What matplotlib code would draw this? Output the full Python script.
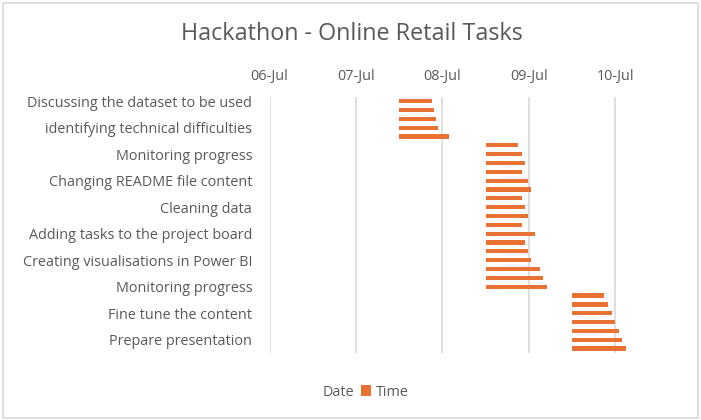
import matplotlib.pyplot as plt
import matplotlib.dates as mdates
from matplotlib.patches import Rectangle, Patch

# task labels shown on the axis (Excel shows every 3rd category)
task_labels = ['Discussing the dataset to be used',
               'identifying technical difficulties',
               'Monitoring progress',
               'Changing README file content',
               'Cleaning data',
               'Adding tasks to the project board',
               'Creating visualisations in Power BI',
               'Monitoring progress',
               'Fine tune the content',
               'Prepare presentation']
label_rows = [0, 3, 6, 9, 12, 15, 18, 21, 24, 27]

# start of each task ("Date" series, invisible)
start_dates = ['2024-07-07 12:00'] * 5 + ['2024-07-08 12:00'] * 17 + ['2024-07-09 12:00'] * 7
# duration of each task in hours ("Time" series)
hours = [9, 9.75, 10.25, 10.75, 13.75,
         9, 10, 11, 10, 11.75, 12.75, 10, 11, 11.75, 10, 13.75, 11, 11.75, 12.75, 15, 16, 17,
         9, 10, 11, 12, 13, 14, 15]

plt.rcParams['font.family'] = ['Open Sans', 'DejaVu Sans']
grey = '#595959'
orange = '#E97132'

fig = plt.figure(figsize=(7.01, 4.2), dpi=100)
fig.patches.append(Rectangle((0.004, 0.004), 0.992, 0.988, transform=fig.transFigure,
                             fill=False, edgecolor='#d9d9d9', linewidth=1.2))
ax = fig.add_axes([269.5 / 701, 1 - 353 / 420, 388.8 / 701, 256.3 / 420])

starts = mdates.datestr2num(start_dates)
rows = list(range(len(hours)))
ax.barh(rows, [h / 24 for h in hours], left=starts, height=0.48, color=orange)

x0 = mdates.datestr2num('2024-07-06')
ax.set_xlim(x0, x0 + 4.5)
ax.set_ylim(len(hours) - 0.5, -0.5)
ax.set_xticks([x0 + i for i in range(5)])
ax.xaxis.set_major_formatter(mdates.DateFormatter('%d-%b'))
ax.xaxis.tick_top()
ax.set_yticks(label_rows)
ax.set_yticklabels(task_labels)
ax.tick_params(length=0, colors=grey, labelsize=10.4)
ax.tick_params(axis='y', pad=12.5)
ax.tick_params(axis='x', pad=9)
ax.grid(axis='x', color='#d9d9d9', linewidth=1.2)
ax.set_axisbelow(True)
for s in ax.spines.values():
    s.set_visible(False)

fig.text(352 / 701, 1 - 34 / 420, 'Hackathon - Online Retail Tasks', ha='center', va='center',
         fontsize=16.8, color=grey)

handles = [Patch(facecolor='none', edgecolor='none', label='Date'),
           Patch(facecolor=orange, label='Time')]
fig.legend(handles=handles, loc='center', bbox_to_anchor=(358 / 701, 1 - 392 / 420), ncol=2,
           frameon=False, fontsize=10.4, labelcolor=grey, handlelength=0.7, handleheight=0.7,
           handletextpad=0.3, columnspacing=0.5)

fig.savefig('out.png', dpi=100)
